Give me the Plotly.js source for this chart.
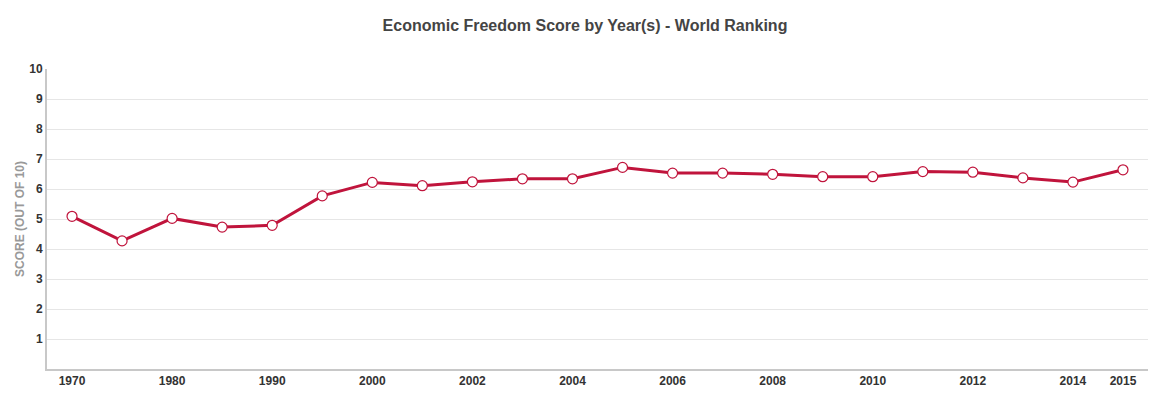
<!DOCTYPE html>
<html>
<head>
<meta charset="utf-8">
<script src="https://cdn.plot.ly/plotly-3.0.1.min.js"></script>
<style>html,body{margin:0;padding:0;background:#fff;}#chart{width:1163px;height:397px;}</style>
</head>
<body>
<div id="chart"></div>
<script>
var years = ['1970','1975','1980','1985','1990','1995','2000','2001','2002','2003','2004','2005','2006','2007','2008','2009','2010','2011','2012','2013','2014','2015'];
var scores = [5.09,4.27,5.02,4.73,4.79,5.77,6.22,6.11,6.24,6.34,6.34,6.72,6.53,6.53,6.49,6.41,6.41,6.58,6.56,6.37,6.23,6.64];
var xTickVals = ['1970','1980','1990','2000','2002','2004','2006','2008','2010','2012','2014','2015'];
var yTickVals = [1,2,3,4,5,6,7,8,9,10];

var font = 'Liberation Sans, Arial, sans-serif';
var trace = {
  x: years, y: scores, type: 'scatter', mode: 'lines+markers',
  line: {color: '#c0143c', width: 3},
  marker: {size: 10, color: '#ffffff', line: {color: '#c0143c', width: 1.2}},
  hoverinfo: 'x+y'
};
var layout = {
  width: 1163, height: 397,
  margin: {l: 47, r: 15, t: 69, b: 28},
  paper_bgcolor: '#fff', plot_bgcolor: '#fff',
  showlegend: false,
  title: {text: 'Economic Freedom Score by Year(s) - World Ranking', x: 0.503, xanchor: 'center', y: 0.937, yanchor: 'middle',
          font: {family: font, size: 16, color: '#444', weight: 'bold'}},
  xaxis: {
    type: 'category', categoryorder: 'array', categoryarray: years,
    range: [-0.5, years.length - 0.5],
    tickmode: 'array', tickvals: xTickVals, ticktext: xTickVals,
    showgrid: false, zeroline: false,
    showline: true, linecolor: '#c8c8c8', linewidth: 2,
    ticks: '', ticklen: 0,
    tickfont: {family: font, size: 12, color: '#333', weight: 'bold'},
    automargin: false
  },
  yaxis: {
    range: [0, 10], tickmode: 'array', tickvals: yTickVals,
    showgrid: true, gridcolor: '#e6e6e6', gridwidth: 1,
    zeroline: false, showline: true, linecolor: '#c8c8c8', linewidth: 2,
    ticks: '', tickfont: {family: font, size: 12, color: '#333', weight: 'bold'},
    title: {text: 'SCORE (OUT OF 10)', standoff: 2, font: {family: font, size: 12, color: '#999', weight: 'bold'}},
    automargin: false
  }
};
Plotly.newPlot('chart', [trace], layout, {displayModeBar: false, staticPlot: true});
</script>
</body>
</html>
